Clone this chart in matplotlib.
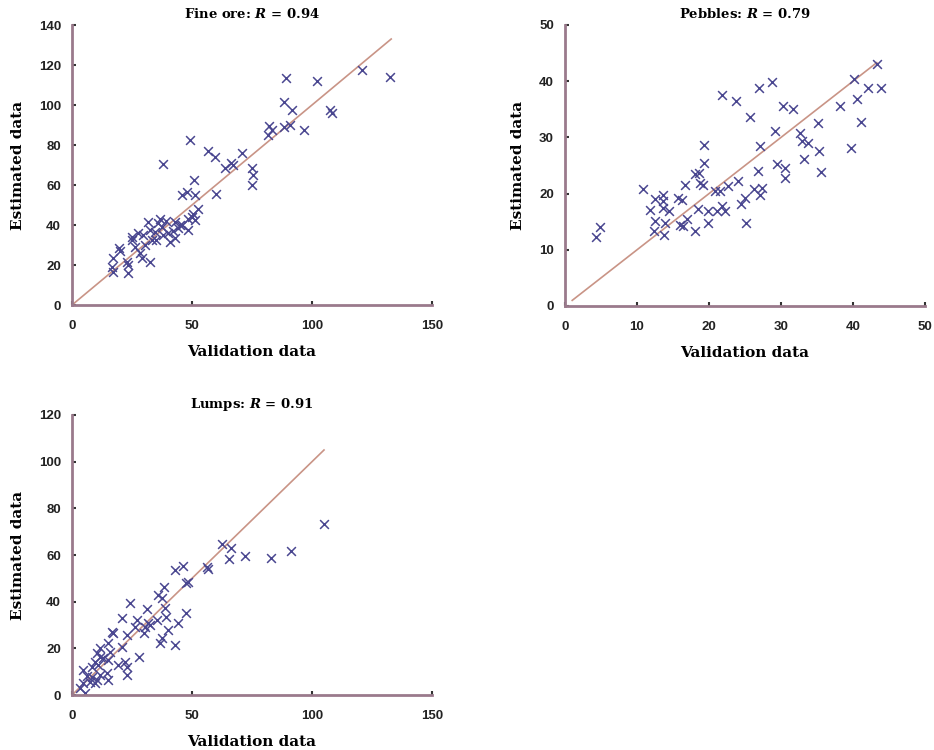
import matplotlib
matplotlib.use("Agg")
import matplotlib.pyplot as plt
import numpy as np

plt.rcParams["mathtext.fontset"] = "custom"
plt.rcParams["mathtext.it"] = "DejaVu Serif:italic:bold"
plt.rcParams["mathtext.rm"] = "DejaVu Serif:bold"

# ---------------- data ----------------
fine_x = [120.7, 132.5, 89, 102, 88.3, 91.8, 107.5, 108.3, 90.8, 88.3, 96.7, 82, 83.2, 81.8,
          49, 56.8, 59.6, 71, 38, 63.8, 67.2, 66.2, 74.9, 75.6, 74.9, 51, 47.8, 45.7, 51.25, 60,
          52.6, 49.9, 48.5, 51.25, 43, 44.3, 48.5, 43, 40, 31.8, 32.5, 36, 37.4, 34.6, 38, 33.2,
          29.7, 24.9, 24.9, 26.25, 28.3, 29, 32.5, 19.7, 20, 17.2, 16.5, 22.8, 23.5, 23.5, 17.2,
          40.8, 45, 35.2, 42, 39, 36.5, 30.5, 27.5, 50.5, 46]
fine_y = [117.5, 114, 113.7, 112, 101.7, 97.5, 97.5, 96, 90, 89, 87.5, 89.5, 87.5, 85,
          82.5, 77, 74, 75.8, 70.3, 68.3, 70, 71, 68.3, 65, 60, 62.5, 56.7, 55, 55, 55.3,
          47.8, 44, 43, 42.5, 41.7, 38.3, 37.5, 33.3, 35.8, 41.7, 37.5, 40.8, 39, 36.7, 35, 32.5,
          35, 34.2, 32.5, 29.2, 25.8, 23.3, 21.7, 28.3, 27.2, 23.3, 19.2, 21.7, 20, 15.8, 16.7,
          31.7, 40, 32.5, 37, 42, 43, 30, 36, 45.5, 40]

peb_x = [43.3, 40.1, 42.1, 43.9, 40.5, 41.1, 39.7, 38.2, 28.8, 27, 21.8, 23.8, 30.3, 31.7,
         25.7, 29.1, 35.1, 32.6, 32.9, 33.8, 35.3, 33.2, 35.6, 29.4, 30.5, 30.6, 27.1, 26.8,
         19.3, 19.35, 18.1, 18.6, 18.75, 19.1, 16.6, 10.9, 13.6, 12.5, 13.6, 15.7, 16.2, 11.8,
         13.6, 14.4, 12.5, 13.9, 12.3, 13.7, 16, 16.9, 16.4, 18, 19.8, 18.5, 19.9, 21.1, 22.2,
         21.8, 20.8, 21.5, 22.7, 24, 24.5, 25, 25.2, 26.2, 27.1, 27.3, 4.3, 4.8]
peb_y = [43.1, 40.4, 38.8, 38.8, 36.8, 32.8, 28.1, 35.6, 39.9, 38.8, 37.6, 36.5, 35.5, 35,
         33.7, 31.1, 32.5, 30.8, 29.3, 29, 27.5, 26.2, 23.8, 25.3, 24.6, 22.8, 28.4, 24,
         28.6, 25.4, 23.4, 23.7, 21.9, 21.6, 21.5, 20.9, 19.7, 19.1, 18.6, 19.2, 18.8, 17,
         17.5, 16.9, 15.1, 14.7, 13.4, 12.7, 14.5, 15.4, 14.2, 13.4, 14.7, 17.3, 16.9, 16.9, 16.9,
         17.8, 20.4, 20.5, 21.3, 22.3, 18.2, 19.2, 14.8, 20.8, 19.8, 21, 12.3, 14]

lump_x = [105.1, 91.1, 82.8, 72.1, 65.4, 66.1, 62.4, 56.1, 56.8, 46.4, 42.9, 47.5, 48.4,
          38.3, 37.4, 36, 24.2, 47.5, 44.3, 40.1, 42.9, 37.4, 36.7, 38.8, 39.2, 35.3, 31.4,
          31.8, 32.5, 30.4, 27.2, 26.25, 30.1, 20.7, 22.8, 28.1, 17.2, 16.5, 15.1, 11.7, 10.3,
          13.1, 19.3, 22.8, 22.8, 22.1, 20.7, 15.1, 9.6, 11, 8.2, 4.7, 6.1, 8.2, 10.3, 11.7,
          14.4, 15.1, 4.7, 3.3, 5.4, 9.6, 7.5, 15.8, 11.7]
lump_y = [73.3, 61.7, 58.6, 59.7, 58.1, 62.9, 64.7, 54.7, 54, 55.4, 53.6, 48.1, 48.6,
          46.4, 41.4, 42.9, 39.6, 35.3, 30.7, 27.9, 21.4, 24.3, 22.4, 37.1, 33.6, 32.1, 36.7,
          30.7, 30, 29, 32.1, 29.3, 26.4, 32.9, 25.7, 16.4, 26.4, 26.8, 22.1, 20, 17.9,
          15.7, 12.9, 12.1, 8.6, 14.3, 20.7, 15, 14.3, 12.9, 12.1, 10.7, 8.1, 7.9, 6.4, 8.6,
          9.3, 6.4, 5, 2.9, 0.7, 5, 5.7, 18.6, 16.4]

titles = ["Fine ore", "Pebbles", "Lumps"]
r_values = ["0.94", "0.79", "0.91"]
xlims = [150, 50, 150]
ylims = [140, 50, 120]
xticks = [[0, 50, 100, 150], [0, 10, 20, 30, 40, 50], [0, 50, 100, 150]]
yticks = [list(range(0, 141, 20)), list(range(0, 51, 10)), list(range(0, 121, 20))]
line_ends = [(0, 133), (1, 43.3), (0, 105)]

# ---------------- style ----------------
spine_col = "#9a7a8c"
mark_col = "#4a4790"
line_col = "#c99486"
font = "DejaVu Serif"

fig = plt.figure(figsize=(9.34, 7.5), dpi=100)
W, H = 934, 750
boxes = [(72, 25, 432, 305), (565, 25, 925, 306), (72, 415, 432, 695)]

datasets = [(fine_x, fine_y), (peb_x, peb_y), (lump_x, lump_y)]
for i, (x0, y0, x1, y1) in enumerate(boxes):
    ax = fig.add_axes([x0 / W, 1 - y1 / H, (x1 - x0) / W, (y1 - y0) / H])
    xs, ys = datasets[i]
    a, b = line_ends[i]
    ax.plot([a, b], [a, b], color=line_col, lw=1.2, zorder=1)
    ax.scatter(xs, ys, marker="x", s=40, color=mark_col, linewidths=1.1, zorder=2)
    ax.set_xlim(0, xlims[i])
    ax.set_ylim(0, ylims[i])
    ax.set_xticks(xticks[i])
    ax.set_yticks(yticks[i])
    for s in ["top", "right"]:
        ax.spines[s].set_visible(False)
    for s in ["left", "bottom"]:
        ax.spines[s].set_color(spine_col)
        ax.spines[s].set_linewidth(2)
    ax.tick_params(direction="in", length=3, width=1.5, color="#333333",
                   labelsize=9.5, labelcolor="#222222")
    ax.tick_params(axis="x", pad=11)
    ax.tick_params(axis="y", pad=8)
    for lab in ax.get_xticklabels() + ax.get_yticklabels():
        lab.set_fontfamily("Liberation Sans")
        lab.set_fontweight("bold")
    ax.set_title(titles[i] + r": $R$ = " + r_values[i], fontsize=9.5,
                 fontweight="bold", fontfamily=font, pad=5)
    ax.set_xlabel("Validation data", fontsize=11, fontweight="bold", fontfamily=font,
                  labelpad=9)
    ax.set_ylabel("Estimated data", fontsize=11, fontweight="bold", fontfamily=font,
                  labelpad=10)

fig.savefig("out.png", dpi=100)
